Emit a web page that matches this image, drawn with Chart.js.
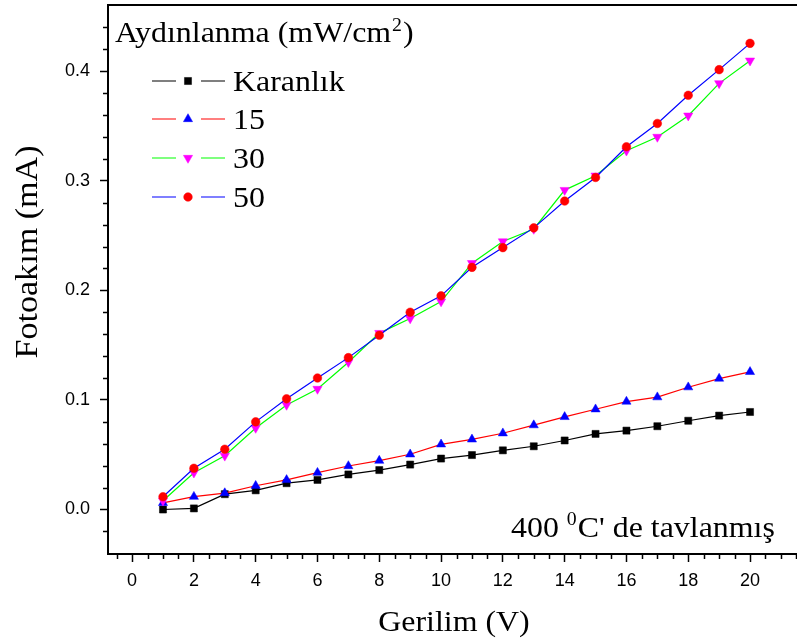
<!DOCTYPE html>
<html>
<head>
<meta charset="utf-8">
<script src="https://cdn.jsdelivr.net/npm/chart.js@4/dist/chart.umd.min.js"></script>
<style>
  html, body { margin: 0; padding: 0; background: #ffffff; }
  #wrap { width: 797px; height: 643px; }
</style>
</head>
<body>
<div id="wrap"><canvas id="c" width="797" height="643"></canvas></div>
<script>
// ---- data ----
const voltage = [1, 2, 3, 4, 5, 6, 7, 8, 9, 10, 11, 12, 13, 14, 15, 16, 17, 18, 19, 20];
const karanlik = [0.000, 0.001, 0.014, 0.0175, 0.024, 0.027, 0.032, 0.036, 0.041, 0.0465,
                  0.0497, 0.054, 0.0577, 0.063, 0.069, 0.072, 0.076, 0.081, 0.0857, 0.089];
const light15 = [0.006, 0.0117, 0.015, 0.0217, 0.027, 0.0336, 0.0397, 0.0446, 0.0504, 0.0595,
                 0.064, 0.0696, 0.077, 0.0845, 0.0915, 0.0985, 0.1025, 0.1116, 0.1195, 0.1256];
const light30 = [0.008, 0.0336, 0.049, 0.0744, 0.0954, 0.110, 0.1344, 0.161, 0.1743, 0.1898,
                 0.2248, 0.2446, 0.256, 0.2915, 0.3046, 0.3274, 0.340, 0.3594, 0.3889, 0.4096];
const light50 = [0.0117, 0.0376, 0.055, 0.080, 0.101, 0.120, 0.1386, 0.159, 0.180, 0.195,
                 0.221, 0.239, 0.257, 0.2815, 0.303, 0.331, 0.3523, 0.378, 0.4014, 0.4254];
const seriesLabels = ['Karanlık', '15', '30', '50'];
const xTickValues = [0, 2, 4, 6, 8, 10, 12, 14, 16, 18, 20];
const yTickValues = [0.0, 0.1, 0.2, 0.3, 0.4];
const legendTitle = 'Aydınlanma (mW/cm';
const xTitle = 'Gerilim (V)';
const yTitle = 'Fotoakım (mA)';

function pts(ys) { return voltage.map((v, i) => ({ x: v, y: ys[i] })); }

const SERIF = '"Liberation Serif", "Times New Roman", serif';
const SANS = '"Liberation Sans", Arial, sans-serif';
const SX = 1.1; // horizontal stretch of the original text

const styles = [
  { line: '#000000', fill: '#000000', style: 'rect', radius: 5, rot: 0 },
  { line: '#ff0000', fill: '#0000ff', style: 'triangle', radius: 5.3, rot: 0 },
  { line: '#00ff00', fill: '#ff00ff', style: 'triangle', radius: 5.3, rot: 180 },
  { line: '#0000ff', fill: '#ff0000', style: 'circle', radius: 4.3, rot: 0 }
];
const seriesData = [karanlik, light15, light30, light50];

const datasets = seriesData.map((d, i) => ({
  label: seriesLabels[i],
  data: pts(d),
  borderColor: styles[i].line,
  backgroundColor: styles[i].fill,
  borderWidth: 1.2,
  pointStyle: styles[i].style,
  pointRadius: styles[i].radius,
  pointHoverRadius: styles[i].radius,
  pointRotation: styles[i].rot,
  pointBorderColor: styles[i].fill,
  pointBackgroundColor: styles[i].fill,
  pointBorderWidth: 0.5,
  tension: 0,
  fill: false,
  order: 4 - i
}));

function sText(ctx, txt, x, y, sx) {
  ctx.save();
  ctx.translate(x, y);
  ctx.scale(sx, 1);
  ctx.fillText(txt, 0, 0);
  ctx.restore();
  return ctx.measureText(txt).width * sx;
}

const decor = {
  id: 'decor',
  afterDraw(chart) {
    const ctx = chart.ctx;
    const xs = chart.scales.x, ys = chart.scales.y;
    const area = chart.chartArea;
    ctx.save();
    // top frame line
    ctx.strokeStyle = '#000';
    ctx.lineWidth = 2;
    ctx.beginPath();
    ctx.moveTo(area.left - 1, area.top);
    ctx.lineTo(area.right, area.top);
    ctx.stroke();
    // minor ticks
    ctx.lineWidth = 1.5;
    ctx.beginPath();
    for (let k = -1; k <= 43; k++) {
      const v = k * 0.5;
      if (v > xs.max || v < xs.min) continue;
      if (k % 4 === 0 && v >= 0 && v <= 20) continue;
      const px = Math.round(xs.getPixelForValue(v)) + 0.5;
      ctx.moveTo(px, area.bottom);
      ctx.lineTo(px, area.bottom + 5);
    }
    for (let k = -1; k <= 22; k++) {
      const v = k * 0.02;
      if (v >= ys.max || v <= ys.min) continue;
      if (k % 5 === 0) continue;
      const py = Math.round(ys.getPixelForValue(v)) + 0.5;
      ctx.moveTo(area.left, py);
      ctx.lineTo(area.left - 5, py);
    }
    ctx.stroke();

    ctx.fillStyle = '#000';
    ctx.textAlign = 'left';
    ctx.textBaseline = 'alphabetic';
    // legend title with superscript
    ctx.font = '29px ' + SERIF;
    let x = 115;
    x += sText(ctx, legendTitle, x, 42, SX);
    ctx.font = '18px ' + SERIF;
    x += sText(ctx, '2', x + 1, 31, SX) + 2;
    ctx.font = '29px ' + SERIF;
    sText(ctx, ')', x, 42, SX);

    // legend entries
    const rows = [81, 119, 158, 197];
    rows.forEach((yy, i) => {
      const st = styles[i];
      ctx.strokeStyle = st.line;
      ctx.lineWidth = 1.2;
      ctx.beginPath();
      ctx.moveTo(152, yy); ctx.lineTo(176, yy);
      ctx.moveTo(201, yy); ctx.lineTo(225, yy);
      ctx.stroke();
      ctx.fillStyle = st.fill;
      ctx.strokeStyle = st.fill;
      ctx.lineWidth = 0.5;
      Chart.helpers.drawPoint(ctx, { pointStyle: st.style, rotation: st.rot, radius: st.radius, borderWidth: 0.5 }, 188, yy);
      ctx.fillStyle = '#000';
      ctx.font = '29px ' + SERIF;
      sText(ctx, seriesLabels[i], 233, yy + 10, SX);
    });

    // annotation
    ctx.fillStyle = '#000';
    ctx.font = '29px ' + SERIF;
    x = 511;
    x += sText(ctx, '400 ', x, 537, SX);
    ctx.font = '18px ' + SERIF;
    x += sText(ctx, '0', x, 525, SX) + 1;
    ctx.font = '29px ' + SERIF;
    sText(ctx, "C' de tavlanmış", x, 537, SX);

    // x title
    ctx.font = '29px ' + SERIF;
    ctx.textAlign = 'center';
    sText(ctx, xTitle, 454, 631, SX);

    // y title
    ctx.save();
    ctx.translate(37, 252);
    ctx.rotate(-Math.PI / 2);
    ctx.font = '31px ' + SERIF;
    ctx.textAlign = 'center';
    sText(ctx, yTitle, 0, 0, SX);
    ctx.restore();

    ctx.restore();
  }
};

new Chart(document.getElementById('c'), {
  type: 'line',
  data: { datasets },
  options: {
    responsive: false,
    animation: false,
    devicePixelRatio: 1,
    layout: { autoPadding: false, padding: { top: 5, right: 0, left: 0, bottom: 0 } },
    plugins: { legend: { display: false }, tooltip: { enabled: false } },
    scales: {
      x: {
        type: 'linear',
        min: -0.78,
        max: 21.52,
        afterFit(s) { s.height = 89; s.paddingLeft = 0; s.paddingRight = 0; },
        afterBuildTicks(s) { s.ticks = xTickValues.map(v => ({ value: v })); },
        grid: { drawOnChartArea: false, drawTicks: true, tickLength: 8, tickColor: '#000', tickWidth: 1.5 },
        border: { display: true, color: '#000', width: 2 },
        ticks: {
          color: '#000',
          padding: 8,
          maxRotation: 0,
          autoSkip: false,
          font: { family: SANS, size: 18 },
          callback: v => String(v)
        }
      },
      y: {
        type: 'linear',
        min: -0.0406,
        max: 0.4604,
        afterFit(s) { s.width = 108; s.paddingTop = 0; s.paddingBottom = 0; },
        afterBuildTicks(s) { s.ticks = yTickValues.map(v => ({ value: v })); },
        grid: { drawOnChartArea: false, drawTicks: true, tickLength: 8, tickColor: '#000', tickWidth: 1.5 },
        border: { display: true, color: '#000', width: 2 },
        ticks: {
          color: '#000',
          padding: 10,
          autoSkip: false,
          font: { family: SANS, size: 18 },
          callback: v => Number(v).toFixed(1)
        }
      }
    }
  },
  plugins: [decor]
});
</script>
</body>
</html>
